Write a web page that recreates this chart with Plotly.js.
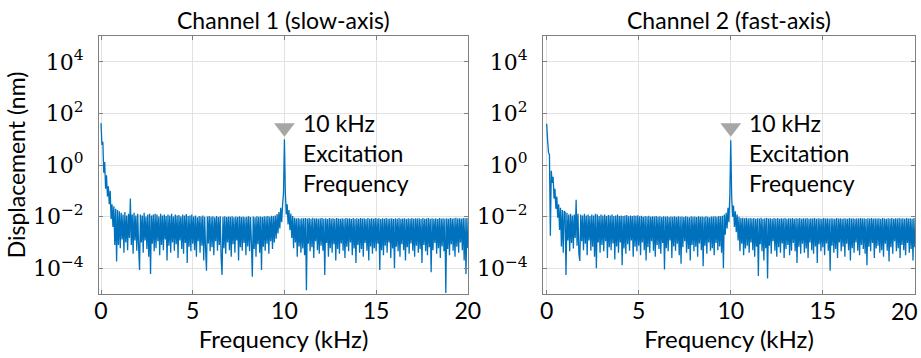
<!DOCTYPE html>
<html><head><meta charset="utf-8">
<script src="https://cdn.plot.ly/plotly-3.0.1.min.js"></script>
<style>html,body{margin:0;padding:0;background:#fff}</style>
</head><body><div id="chart" style="width:921px;height:358px"></div>
<script>
const panelTitles = ["Channel 1 (slow-axis)", "Channel 2 (fast-axis)"];
const xAxisTitle = "Frequency (kHz)";
const yAxisTitle = "Displacement (nm)";
const freqStartKHz = 0;
const freqStepKHz = 0.05;
const ch1Displacement = [
42,6,8,0.5,1.3,0.12,0.4,0.06,0.15,0.03,0.1,0.008,0.03,0.004,0.025,0.0008,0.02,0.00018,0.018,0.0008,
0.016,0.0006,0.014,0.0013,0.012,0.0004,0.015,0.001,0.011,0.0005,0.013,0.0015,0.05,0.0008,0.012,0.00036,0.014,0.0012,0.011,0.00048,
0.013,0.0007,8.5e-5,0.012,0.001,0.011,0.0004,0.014,0.0012,0.010,0.00055,0.012,0.00028,0.013,6e-5,0.011,0.00088,0.012,0.00045,0.013,
0.0006,0.012,0.0011,0.010,0.00032,0.013,0.0008,0.011,0.0005,0.012,0.0013,0.0105,0.0002,0.012,0.00075,0.011,0.0004,0.013,0.001,0.010,
0.00048,0.012,0.00085,0.011,0.00025,0.0115,0.0012,0.010,0.00055,0.012,0.00036,0.011,0.00095,0.0125,0.00016,0.0105,0.00068,0.011,0.00045,0.012,
0.00088,0.010,0.0005,0.011,0.00028,0.0095,0.0011,0.0105,0.0004,0.010,0.00075,0.011,0.0002,0.0098,0.00058,8e-5,0.010,0.0009,0.0105,0.00045,
0.0098,0.00065,0.0102,0.00032,0.0095,0.0011,0.0105,0.00048,0.0097,0.0008,0.0103,0.00025,5.5e-5,0.0099,0.0006,0.0104,0.00036,0.0096,0.001,0.0101,
0.0005,0.0098,0.00028,0.0103,0.00085,0.0095,0.0004,0.0100,0.0012,0.0097,0.0002,0.0104,0.00065,0.0096,0.00048,0.0101,0.00095,0.0094,0.00032,0.0099,
0.0007,0.0102,0.00045,0.0097,0.001,4.7e-5,0.0100,0.00055,0.0095,0.00028,0.0103,0.00085,0.0098,0.0004,0.0101,8.5e-5,0.0096,0.00068,0.0104,0.00048,
0.0100,0.00088,0.0105,0.00036,0.0099,0.0011,0.0108,0.00055,0.0102,0.001,0.0110,0.0014,0.0125,0.0022,0.015,0.0035,0.022,0.006,0.028,0.08,
10,0.09,0.012,0.03,0.005,0.018,0.003,0.013,0.0015,0.0105,0.0006,0.0090,0.001,0.0085,0.00028,0.0088,0.0007,0.0082,0.0004,0.0087,
0.00058,0.0086,0.00032,0.0089,1.4e-5,0.0084,0.00088,0.0088,0.00045,0.0083,0.00065,0.0090,0.00025,0.0085,0.0011,0.0087,0.0005,0.0082,0.00036,0.0086,
0.00075,0.0088,0.00048,0.0083,5.5e-5,0.0087,0.00095,0.0081,0.00028,0.0089,0.0006,0.0084,0.0004,0.0086,0.00085,0.0082,0.0002,0.0088,0.00055,0.0085,
0.00036,0.0083,0.0009,0.0087,0.00048,0.0082,0.00025,0.0089,0.00068,0.0084,0.00045,0.0086,0.001,0.0081,0.00032,0.0088,0.00058,0.0083,0.00016,0.0087,
0.0008,0.0082,0.0004,0.0088,0.00055,0.0084,0.00028,0.0087,0.00095,0.0081,0.00048,0.0089,0.0002,0.0083,0.0007,0.0086,0.00036,0.0082,0.0006,0.0088,
0.00045,0.0084,0.00088,0.0087,8.5e-5,0.0081,0.0005,0.0086,0.00032,0.0083,0.00075,0.0088,0.0004,0.0082,0.001,0.0085,0.00025,0.0087,0.00058,0.0081,
1.0e-4,0.0086,0.00068,0.0083,0.00045,0.0088,0.00028,0.0082,0.00085,0.0085,0.0005,0.0087,0.0002,0.0081,0.00065,0.0086,0.00036,0.0083,0.0009,0.0088,
0.00048,0.0082,0.00028,0.0087,0.00075,0.0084,0.0004,0.0086,0.00055,0.0081,0.00016,0.0088,0.0008,0.0083,0.00045,0.0085,0.00032,0.0089,0.00065,0.0082,
7e-5,0.0086,0.0005,0.0083,0.00095,0.0087,0.00036,0.0081,0.0006,0.0088,0.00025,0.0084,0.0007,0.0086,0.00045,0.0082,1.1e-5,0.0087,0.00055,0.0083,
0.00032,0.0088,0.00085,0.0084,0.00048,0.0086,0.00028,0.0090,0.00068,0.0085,0.0004,0.0087,0.001,0.0083,0.0005,0.0089,0.0002,0.0086,6e-5,0.0088,0.0006
];
const ch2Displacement = [
40,9,3,2.5,0.0018,0.6,0.2,0.35,0.05,0.12,0.02,0.06,0.009,0.03,0.003,0.022,0.0007,0.018,0.0004,0.016,
0.015,5.5e-5,0.014,0.0012,0.012,0.00045,0.013,0.00095,0.011,0.00058,0.012,0.0015,0.045,0.00075,0.013,0.00036,1.9e-4,0.012,0.0011,0.011,
0.0005,0.013,0.00088,0.011,0.00032,0.012,0.0012,0.0105,0.00048,0.012,0.00068,0.011,0.00028,0.013,1.0e-4,0.012,0.001,0.0105,0.0004,0.012,
0.0008,0.011,0.00045,0.012,0.0011,0.0105,0.00025,0.0115,0.00065,0.011,0.0005,0.012,0.0009,0.0105,2.2e-4,0.011,0.0007,0.012,0.0004,0.0105,
0.001,0.011,1.3e-4,0.0105,0.00058,0.011,0.00036,0.0115,0.00085,0.0102,0.00048,0.011,0.0012,0.0105,0.00028,0.011,0.00068,0.0108,0.00045,0.0112,
0.00075,0.0103,0.00032,0.0108,0.001,0.0099,0.0005,0.0105,0.0002,0.0101,0.00065,0.0107,0.0004,0.0098,0.0011,0.0104,0.00048,0.0100,0.00028,0.0106,
0.0008,0.0099,0.00055,0.0104,0.00036,0.0097,0.00095,0.0102,9.0e-5,0.0098,0.0006,0.0103,0.00045,0.0096,0.0012,0.0101,0.00025,0.0099,0.0007,0.0104,
0.00048,0.0097,0.00088,0.0102,0.00032,0.0098,1.5e-4,0.0101,0.00065,0.0096,0.0011,0.0103,0.0004,0.0099,0.00055,0.0095,0.0002,0.0102,0.0008,0.0098,
0.00045,0.0101,0.00068,0.0096,0.00028,0.0103,0.0009,0.0098,0.0005,0.0100,1.2e-4,0.0097,0.00075,0.0102,0.00036,0.0099,0.001,0.0095,0.00048,0.0101,
0.0006,0.0100,0.00032,0.0104,0.00095,0.0099,0.0005,0.0106,0.0007,0.0102,0.0004,0.0108,1.0e-4,0.0120,0.002,0.014,0.0035,0.022,0.006,0.07,
9,0.06,0.010,0.027,0.004,0.016,0.0025,0.012,0.0012,0.0098,0.00045,0.0088,0.00088,0.0091,0.00032,0.0086,0.00058,0.0090,0.00075,0.0085,
0.0004,0.0089,0.001,0.0084,0.0005,0.0088,0.00028,0.0083,0.00068,0.0087,5.0e-5,0.0085,0.00085,0.0090,0.00045,0.0082,0.0002,0.0086,0.0006,0.0088,
4.0e-5,0.0084,0.00075,0.0087,0.00036,0.0083,0.0011,0.0089,0.00048,0.0085,0.00028,0.0088,0.00065,0.0082,0.0004,0.0086,0.0009,0.0084,0.00025,0.0089,
0.00055,0.0083,0.0008,0.0087,0.00032,0.0085,0.00048,0.0088,0.00095,0.0082,0.00045,0.0086,1.6e-4,0.0084,0.00068,0.0089,0.00036,0.0083,0.00088,0.0087,
0.0004,0.0085,0.00058,0.0088,0.00025,0.0082,0.001,0.0086,0.0005,0.0084,0.00036,0.0089,0.0007,0.0083,0.00016,0.0087,0.00085,0.0085,0.00045,0.0082,
0.00065,0.0088,0.00032,0.0084,0.0009,0.0086,0.00048,0.0083,8.0e-5,0.0087,0.00075,0.0085,0.0004,0.0082,0.00055,0.0088,0.00025,0.0084,0.001,0.0086,
0.00045,0.0083,0.00068,0.0087,0.00028,0.0085,0.00088,0.0082,0.0005,0.0088,0.0002,0.0084,0.0006,0.0086,0.0004,0.0083,0.001,0.0087,0.00048,0.0085,
0.00032,0.0088,0.0008,0.0084,0.00055,0.0086,0.00036,0.0082,1.3e-4,0.0087,0.00068,0.0085,0.00045,0.0089,0.00095,0.0083,0.00025,0.0086,0.00058,0.0084,
0.00075,0.0087,0.0004,0.0083,0.0005,0.0088,0.00028,0.0085,0.00088,0.0082,0.00048,0.0086,1.8e-4,0.0084,0.00065,0.0089,0.00036,0.0083,0.0011,0.0087,
0.00045,0.0085,0.0006,0.0088,0.00025,0.0084,0.0008,0.0087,0.0005,0.0083,0.00032,0.0089,0.00095,0.0085,0.0004,0.0086,0.00055,0.0082,0.0002,0.0088,0.00065
];
const xTickVals = [0, 5, 10, 15, 20];
const xTickText = ["0", "5", "10", "15", "20"];
const xTickVals2 = [0, 5, 10, 15];
const xTickText2 = ["0", "5", "10", "15"];
const xEdgeTickVal = 20;
const xEdgeTickText = "20";
const yTickVals = [1e-4, 1e-2, 1, 1e2, 1e4];
const yTickText = ["10<sup>−4</sup>", "10<sup>−2</sup>", "10<sup>0</sup>", "10<sup>2</sup>", "10<sup>4</sup>"];
const excitationFreqKHz = [10];
const markerLevel = [28];
const excitationLabel = "10 kHz<br>Excitation<br>Frequency";

const sans = "Lato, 'Open Sans', sans-serif";
const serif = "'DejaVu Serif', serif";
const frame = "#808080";
const lineBlue = "#0072BD";

function spectrum(y, xa, ya) {
  return {type: "scatter", mode: "lines", x0: freqStartKHz, dx: freqStepKHz, y: y,
          xaxis: xa, yaxis: ya, line: {color: lineBlue, width: 1.3, simplify: false},
          hoverinfo: "skip", showlegend: false};
}
function marker(xa, ya) {
  return {type: "scatter", mode: "markers", x: excitationFreqKHz, y: markerLevel, xaxis: xa, yaxis: ya,
          marker: {symbol: "triangle-down", size: 18, color: "#a6a6a6"}, hoverinfo: "skip", showlegend: false};
}
function xAx(domain, range, anchor, tickvals, ticktext) {
  return {domain: domain, range: range, anchor: anchor, tickvals: tickvals, ticktext: ticktext,
    showgrid: true, gridcolor: "#e2e2e2", gridwidth: 1, zeroline: false,
    showline: true, linecolor: frame, linewidth: 1, mirror: "ticks",
    ticks: "inside", ticklen: 4, tickcolor: frame, ticklabelstandoff: -4, ticklabeloverflow: "allow",
    tickfont: {family: sans, size: 23, color: "#000"},
    title: {text: xAxisTitle, font: {family: sans, size: 24, color: "#000"}, standoff: 6}};
}
function yAx(anchor, withTitle) {
  const a = {type: "log", range: [-5, 5], domain: [0, 1], anchor: anchor,
    tickvals: yTickVals, ticktext: yTickText,
    showgrid: true, gridcolor: "#e2e2e2", gridwidth: 1, zeroline: false,
    showline: true, linecolor: frame, linewidth: 1, mirror: "ticks",
    ticks: "inside", ticklen: 4, tickcolor: frame, ticklabelstandoff: 10,
    tickfont: {family: serif, size: 22, color: "#000"}};
  if (withTitle) a.title = {text: yAxisTitle, font: {family: sans, size: 23, color: "#000"}, standoff: 0};
  return a;
}

const data = [
  spectrum(ch1Displacement, "x", "y"), marker("x", "y"),
  spectrum(ch2Displacement, "x2", "y2"), marker("x2", "y2")
];

const layout = {
  width: 921, height: 358, margin: {l: 0, r: 0, t: 36, b: 64, pad: 0},
  paper_bgcolor: "#fff", plot_bgcolor: "#fff", showlegend: false,
  xaxis: xAx([99/921, 468/921], [-0.11, 20.01], "y", xTickVals, xTickText),
  yaxis: yAx("x", true),
  xaxis2: xAx([543/921, 915/921], [-0.2, 20.01], "y2", xTickVals2, xTickText2),
  yaxis2: yAx("x2", false),
  annotations: [
    {xref: "x domain", yref: "paper", x: 0.5, y: 1, yanchor: "bottom", yshift: 0, showarrow: false,
     text: panelTitles[0], font: {family: sans, size: 23, color: "#000"}},
    {xref: "x2 domain", yref: "paper", x: 0.5, y: 1, yanchor: "bottom", yshift: 0, showarrow: false,
     text: panelTitles[1], font: {family: sans, size: 23, color: "#000"}},
    {xref: "x", yref: "y domain", x: 10.9, y: 0.725, xanchor: "left", yanchor: "top", align: "left", showarrow: false,
     text: excitationLabel, font: {family: sans, size: 23, color: "#000"}},
    {xref: "x2", yref: "y2 domain", x: 10.9, y: 0.725, xanchor: "left", yanchor: "top", align: "left", showarrow: false,
     text: excitationLabel, font: {family: sans, size: 23, color: "#000"}},
    {xref: "x2", yref: "y2 domain", x: xEdgeTickVal, y: 0, xanchor: "right", yanchor: "top", xshift: 5, yshift: -1,
     showarrow: false, text: xEdgeTickText, font: {family: sans, size: 23, color: "#000"}}
  ]
};

Plotly.newPlot("chart", data, layout, {displayModeBar: false, staticPlot: true});
</script>
</body></html>
